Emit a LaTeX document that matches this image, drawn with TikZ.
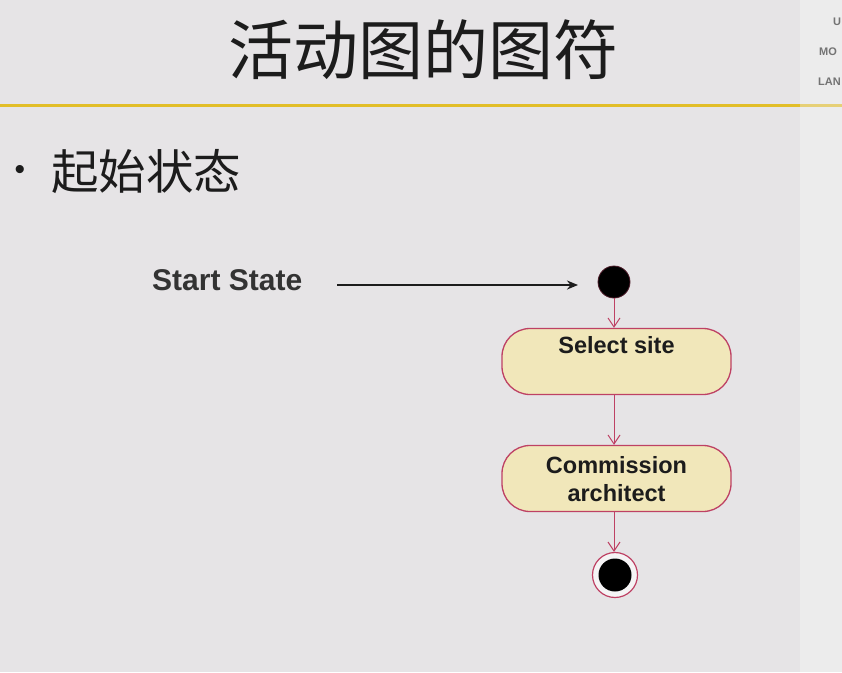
\documentclass[tikz,border=0pt]{standalone}
\usepackage{fontspec}
\setmainfont{Liberation Sans}
\newfontfamily\cjk{Noto Sans CJK SC}
\usetikzlibrary{arrows.meta}
\definecolor{bg}{RGB}{230,228,230}
\definecolor{strip}{RGB}{236,236,236}
\definecolor{gold}{RGB}{226,190,40}
\definecolor{umlpink}{RGB}{190,65,100}
\definecolor{umlfill}{RGB}{241,231,186}
\definecolor{ink}{RGB}{28,28,28}
\tikzset{
  actbox/.style={draw=umlpink, line width=1.3pt, fill=umlfill, rounded corners=28pt,
    minimum width=229pt, minimum height=66pt, inner sep=0pt},
  acttext/.style={font=\bfseries\fontsize{23.5}{28}\selectfont, text=ink, align=center, inner sep=0pt},
  flow/.style={draw=umlpink, line width=1pt, -{Straight Barb[length=9pt,width=12pt]}},
  pointer/.style={draw=ink, line width=2.4pt, -{Stealth[length=11pt,width=9pt]}},
  sidetext/.style={font=\bfseries\fontsize{11}{11}\selectfont, text=black!55, anchor=west, inner sep=0pt}
}
\begin{document}
\begin{tikzpicture}[x=1pt,y=-1pt]
\useasboundingbox (0,0) rectangle (842,672);
\fill[bg] (0,0) rectangle (842,672);
\fill[strip] (800,0) rectangle (842,672);
\node[sidetext] (s1) at (833,22) {U};
\node[sidetext] (s2) at (819,52) {MO};
\node[sidetext] (s3) at (818,82) {LAN};
% header rule
\fill[gold] (0,103.5) rectangle (800,107);
\fill[gold!60!strip] (800,103.5) rectangle (842,107);
% title
\node[font=\cjk\fontsize{65}{65}\selectfont, text=ink, inner sep=0pt] (title) at (423,50) {活动图的图符};
% bullet
\node[font=\fontsize{30}{30}\selectfont, text=ink, inner sep=0pt] (bul) at (20,172) {•};
\node[font=\cjk\fontsize{47.5}{47.5}\selectfont, text=ink, anchor=west, inner sep=0pt] (sub) at (51,172) {起始状态};
% start state label
\node[font=\bfseries\fontsize{30}{30}\selectfont, text=ink!90, anchor=west, inner sep=0pt] (lbl) at (152,280) {Start State};
% initial node
\node[circle, fill=black, draw=umlpink!40!black, line width=0.8pt, minimum size=32pt, inner sep=0pt] (init) at (614,282) {};
\coordinate (ptail) at (337,285);
\draw[pointer] (ptail) -- (578,285);
% activities
\node[actbox] (sel) at (616.5,361.5) {};
\node[acttext, below=8pt] (seltxt) at (sel.north) {Select site};
\node[actbox] (com) at (616.5,478.5) {};
\node[acttext, yshift=-1pt] (comtxt) at (com.center) {Commission\\architect};
% final node
\node[circle, draw=umlpink, line width=1.2pt, fill=bg!40!white, minimum size=45pt, inner sep=0pt] (fin) at (615,575) {};
\node[circle, fill=black, minimum size=33pt, inner sep=0pt] (fincore) at (fin.center) {};
% flows
\draw[flow] (init.south) -- (init.south |- sel.north);
\draw[flow] (sel.south -| init.south) -- (com.north -| init.south);
\draw[flow] (com.south -| init.south) -- (fin.north -| init.south);
\end{tikzpicture}
\end{document}
